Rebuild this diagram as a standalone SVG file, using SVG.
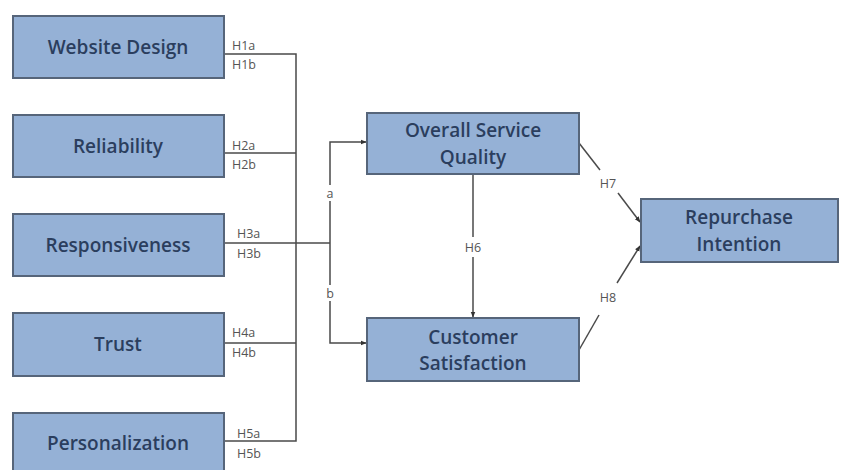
<svg xmlns="http://www.w3.org/2000/svg" width="841" height="470" viewBox="0 0 841 470">
<defs>
<style>
.box{fill:#95b1d6;stroke:#56657a;stroke-width:2}
.t{font-family:"Open Sans","Liberation Sans",sans-serif;font-size:19px;font-weight:600;fill:#2b3e5e;text-anchor:middle;dominant-baseline:central}
.l{font-family:"Open Sans","Liberation Sans",sans-serif;font-size:12.5px;fill:#555;dominant-baseline:central}
.c{fill:none;stroke:#4a4a4a;stroke-width:1.5}
</style>
<marker id="ah" viewBox="0 0 10 10" refX="9" refY="5" markerWidth="6" markerHeight="6" orient="auto" markerUnits="userSpaceOnUse">
<path d="M0,1 L10,5 L0,9 z" fill="#333"/>
</marker>
</defs>
<rect width="841" height="470" fill="#fff"/>
<g id="connectors">
<path class="c" d="M224,54 H296 V441 H224"/>
<path class="c" d="M224,153 H296"/>
<path class="c" d="M224,343 H296"/>
<path class="c" d="M224,243 H330"/>
<path class="c" d="M330,185 V142 H366" marker-end="url(#ah)"/>
<path class="c" d="M330,201 V285"/>
<path class="c" d="M330,301 V343 H366" marker-end="url(#ah)"/>
<path class="c" d="M473,174 V237"/>
<path class="c" d="M473,257 V317" marker-end="url(#ah)"/>
<path class="c" d="M579,143 L600,170"/>
<path class="c" d="M618,193 L640,222" marker-end="url(#ah)"/>
<path class="c" d="M579,350 L599,315"/>
<path class="c" d="M617,283 L640,246" marker-end="url(#ah)"/>
<text class="l" x="232" y="45">H1a</text>
<text class="l" x="232" y="64">H1b</text>
<text class="l" x="232" y="145">H2a</text>
<text class="l" x="232" y="164">H2b</text>
<text class="l" x="237" y="233">H3a</text>
<text class="l" x="237" y="253">H3b</text>
<text class="l" x="232" y="332">H4a</text>
<text class="l" x="232" y="352">H4b</text>
<text class="l" x="237" y="433">H5a</text>
<text class="l" x="237" y="453">H5b</text>
<text class="l" x="330" y="193" text-anchor="middle">a</text>
<text class="l" x="330" y="293" text-anchor="middle">b</text>
<text class="l" x="473" y="247" text-anchor="middle">H6</text>
<text class="l" x="608" y="183" text-anchor="middle">H7</text>
<text class="l" x="608" y="297" text-anchor="middle">H8</text>
</g>
<g id="website-design"><rect class="box" x="13" y="16" width="211" height="62"/><text class="t" x="118" y="47">Website Design</text></g>
<g id="reliability"><rect class="box" x="13" y="115" width="211" height="62"/><text class="t" x="118" y="146">Reliability</text></g>
<g id="responsiveness"><rect class="box" x="13" y="214" width="211" height="62"/><text class="t" x="118" y="245">Responsiveness</text></g>
<g id="trust"><rect class="box" x="13" y="313" width="211" height="63"/><text class="t" x="118" y="344">Trust</text></g>
<g id="personalization"><rect class="box" x="13" y="413" width="211" height="62"/><text class="t" x="118" y="443">Personalization</text></g>
<g id="overall-service-quality"><rect class="box" x="367" y="113" width="212" height="61"/><text class="t" x="473" y="130">Overall Service</text><text class="t" x="473" y="157">Quality</text></g>
<g id="customer-satisfaction"><rect class="box" x="367" y="318" width="212" height="63"/><text class="t" x="473" y="337">Customer</text><text class="t" x="473" y="363">Satisfaction</text></g>
<g id="repurchase-intention"><rect class="box" x="641" y="199" width="197" height="63"/><text class="t" x="739" y="217">Repurchase</text><text class="t" x="739" y="244">Intention</text></g>
</svg>
